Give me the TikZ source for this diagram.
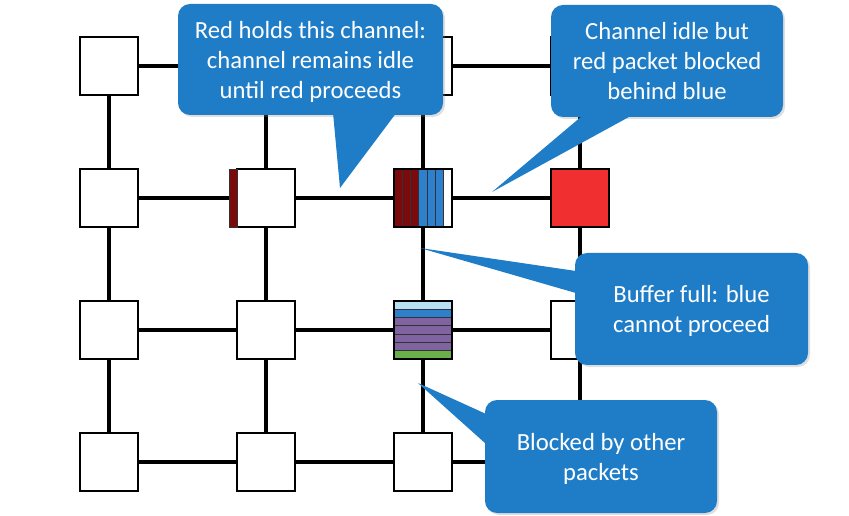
\documentclass[tikz,border=0pt]{standalone}
\usepackage{fontspec}
\setmainfont{Carlito}
\usepackage{tikz}
\usetikzlibrary{calc}
\usetikzlibrary{shadows}

\definecolor{bulle}{RGB}{31,125,200}
\definecolor{rougef}{RGB}{122,10,12}
\definecolor{rouge}{RGB}{240,48,48}
\definecolor{bleu}{RGB}{46,128,204}
\definecolor{bleuc}{RGB}{184,224,242}
\definecolor{violet}{RGB}{128,100,162}
\definecolor{vert}{RGB}{106,176,72}

\begin{document}
\begin{tikzpicture}[x= 0.75pt, y= -0.75pt,
	routeur/.style= {draw, line width= 1.5pt, fill= white, minimum size= 43.5pt, inner sep= 0pt, outer sep= 0pt},
	lien/.style= {line width= 2.6pt},
	tranche/.style= {draw= black!80, line width= 0.6pt},
	info/.style= {fill= bulle, rounded corners= 9pt, text= white, align= center, inner sep= 0pt, text depth= 0pt,
		font= \fontsize{18.5}{22.5}\selectfont, drop shadow= {opacity= 0.25, shadow xshift= 1.5pt, shadow yshift= -1.5pt}},
	pointe/.style= {fill= bulle}]
	\useasboundingbox (0,0) rectangle (849,516);

	% routeurs
	\foreach \i in {0,...,3}
		\foreach \j in {0,...,3}
			\node [routeur] (r\i\j) at (109+157*\j, 66+132*\i) {};

	% liens
	\foreach \i in {0,...,3}
		\foreach \j/\k in {0/1,1/2,2/3} {
			\draw [lien] (r\i\j) -- (r\i\k);
			\draw [lien] (r\j\i) -- (r\k\i);
		}

	% paquet rouge en attente
	\filldraw [tranche, fill= rougef] ($(r11.north west)+(-8,0)$) rectangle (r11.south west);
	\filldraw [routeur, fill= rouge] (r13.north west) rectangle (r13.south east);

	% tampon plein rouge / bleu
	\foreach \k/\c in {0/rougef,1/rougef,2/rougef,3/bleu,4/bleu,5/bleu}
		\filldraw [tranche, fill= \c] ($(r12.north west)+({58/7*\k},0)$) rectangle ($(r12.south west)+({58/7*(\k+1)},0)$);
	\draw [line width= 1.5pt] (r12.north west) rectangle (r12.south east);

	% tampon plein autres paquets
	\foreach \k/\c in {0/bleuc,1/bleu,2/violet,3/violet,4/violet,5/violet,6/vert}
		\filldraw [tranche, fill= \c] ($(r22.north west)+(0,{58/7*\k})$) rectangle ($(r22.north east)+(0,{58/7*(\k+1)})$);
	\draw [line width= 1.5pt] (r22.north west) rectangle (r22.south east);

	% bulles
	\node [info, minimum width= 198.75pt, minimum height= 83.25pt] (b1) at (310.5,59.5) {Red holds this channel:\\channel remains idle\\until red proceeds};
	\coordinate (p1) at (340,188);
	\fill [pointe] ($(b1.south)+(22,-8)$) -- (p1) -- ($(b1.south)+(90,-8)$) -- cycle;

	\node [info, minimum width= 174pt, minimum height= 84pt] (b2) at (667,61) {Channel idle but\\red packet blocked\\behind blue};
	\coordinate (p2) at (492,192);
	\fill [pointe] ($(b2.south)+(-77,-8)$) -- (p2) -- ($(b2.south)+(-24,-8)$) -- cycle;

	\node [info, minimum width= 174.75pt, minimum height= 84pt] (b3) at (691.5,309) {Buffer full: blue\\cannot proceed};
	\coordinate (p3) at (420,248);
	\fill [pointe] ($(b3.west)+(8,-37)$) -- (p3) -- ($(b3.west)+(8,-14)$) -- cycle;

	\node [info, minimum width= 174pt, minimum height= 84.75pt] (b4) at (601,456.5) {Blocked by other\\packets};
	\coordinate (p4) at (418,383);
	\fill [pointe] ($(b4.west)+(8,-39.5)$) -- (p4) -- ($(b4.west)+(8,-6.5)$) -- cycle;
\end{tikzpicture}
\end{document}
